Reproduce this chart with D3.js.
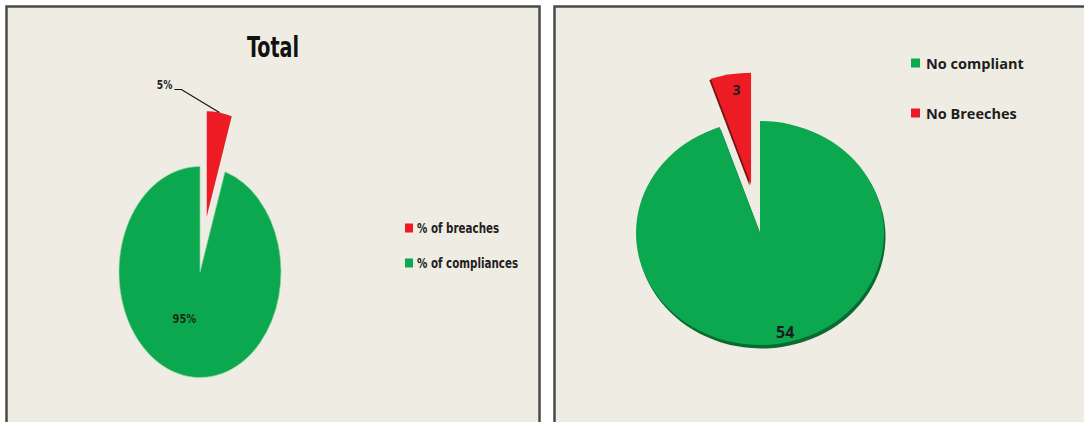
<!DOCTYPE html>
<html>
<head>
<meta charset="utf-8">
<script src="https://cdn.jsdelivr.net/npm/d3@7"></script>
<style>
  html, body { margin: 0; padding: 0; background: #ffffff; }
  svg { display: block; }
</style>
</head>
<body>
<svg id="chart" width="1084" height="422"></svg>
<script>
// ---- data ----
const leftTitle = "Total";
const leftCategories = ["% of breaches", "% of compliances"];
const leftValues = [5, 95];
const leftLabels = ["5%", "95%"];

const rightCategories = ["No compliant", "No Breeches"];
const rightValues = [54, 3];
const rightLabels = ["54", "3"];

const colors = { red: "#ED1C24", green: "#0BA84F" };

// ---- setup ----
const svg = d3.select("#chart");
const bg = "#EFECE3";
const narrow = "'DejaVu Sans Condensed', 'DejaVu Sans', sans-serif";
const sans = "'Open Sans', 'Noto Sans', sans-serif";

// helper: horizontally condensed text
function ctext(sel, x, y, sxk, txt, size, anchor, color) {
  return sel.append("text")
    .attr("transform", `translate(${x},${y}) scale(${sxk},1)`)
    .attr("text-anchor", anchor).attr("dominant-baseline", "central")
    .style("font-family", narrow).style("font-weight", "bold").style("font-size", size + "px")
    .attr("fill", color).text(txt);
}

// panels
svg.append("rect").attr("x", 6.5).attr("y", 6.5).attr("width", 533).attr("height", 430)
  .attr("fill", bg).attr("stroke", "#4a4a4a").attr("stroke-width", 2.5);
svg.append("rect").attr("x", 554.5).attr("y", 6.5).attr("width", 540).attr("height", 430)
  .attr("fill", bg).attr("stroke", "#4a4a4a").attr("stroke-width", 2.5);

// ---------------- LEFT PIE ----------------
{
  const R = 105.5, sx = 81 / 105.5, cx = 200, cy = 272;
  const pie = d3.pie().sort(null).value(d => d.v).startAngle(0).endAngle(2 * Math.PI);
  const data = pie(leftCategories.map((c, i) => ({ c, v: leftValues[i], l: leftLabels[i] })));
  const arc = d3.arc().innerRadius(0).outerRadius(R);
  const g = svg.append("g").attr("transform", `translate(${cx},${cy})`);
  const explode = 56;
  const off = d => {
    const m = (d.startAngle + d.endAngle) / 2;
    return d.index === 0 ? [Math.sin(m) * explode * sx, -Math.cos(m) * explode] : [0, 0];
  };
  g.selectAll("path.s").data(data).join("path")
    .attr("class", "s")
    .attr("d", arc)
    .attr("transform", d => { const o = off(d); return `translate(${o[0]},${o[1]}) scale(${sx},1)`; })
    .attr("fill", (d, i) => i === 0 ? colors.red : colors.green)
    .attr("stroke", (d, i) => i === 0 ? "none" : "#8fd6a4")
    .attr("stroke-width", 0.8);

  // 95% label inside
  const labelArc = d3.arc().innerRadius(47).outerRadius(47);
  const dg = data[1];
  const c1 = labelArc.centroid(dg);
  ctext(g, c1[0] * sx - 10, c1[1], 0.85, dg.data.l, 13, "middle", "#1a2a1a");

  // 5% label outside with leader
  const dr = data[0];
  const m = (dr.startAngle + dr.endAngle) / 2;
  const o = off(dr);
  const px = o[0] + Math.sin(m) * R * sx, py = o[1] - Math.cos(m) * R;
  const ex = px - 38, ey = py - 23;
  g.append("polyline")
    .attr("points", `${px},${py} ${ex},${ey} ${ex - 7},${ey}`)
    .attr("fill", "none").attr("stroke", "#111").attr("stroke-width", 1.2);
  ctext(g, ex - 9, ey - 4, 0.85, dr.data.l, 12, "end", "#222");

  // title
  ctext(svg, 273, 47, 0.76, leftTitle, 28, "middle", "#111");

  // legend
  const lg = svg.append("g").attr("transform", "translate(405,228)");
  const items = lg.selectAll("g").data(data).join("g")
    .attr("transform", (d, i) => `translate(0,${i * 35})`);
  items.append("rect").attr("x", 0).attr("y", -4.5).attr("width", 8).attr("height", 9)
    .attr("fill", (d, i) => i === 0 ? colors.red : colors.green);
  items.each(function (d) { ctext(d3.select(this), 12, 0, 0.82, d.data.c, 14, "start", "#222"); });
}

// ---------------- RIGHT PIE ----------------
{
  const R = 112, sx = 124 / 112, cx = 760, cy = 233;
  const pie = d3.pie().sort(null).value(d => d.v).startAngle(0).endAngle(2 * Math.PI);
  const data = pie(rightCategories.map((c, i) => ({ c, v: rightValues[i], l: rightLabels[i] })));
  const arc = d3.arc().innerRadius(0).outerRadius(R);
  const g = svg.append("g").attr("transform", `translate(${cx},${cy})`);
  const explode = 49;
  const off = d => {
    const m = (d.startAngle + d.endAngle) / 2;
    return d.index === 1 ? [Math.sin(m) * explode * sx, -Math.cos(m) * explode] : [0, 0];
  };
  const fills = [colors.green, colors.red];
  const shades = ["#0a6a32", "#7a1010"];
  const shOff = [[1.5, 3.5], [-1.5, 1.2]];
  // shadow
  g.selectAll("path.sh").data(data).join("path")
    .attr("class", "sh")
    .attr("d", arc)
    .attr("transform", d => { const o = off(d); const s = shOff[d.index];
      return `translate(${o[0] + s[0]},${o[1] + s[1]}) scale(${sx},1)`; })
    .attr("fill", d => shades[d.index]);
  g.selectAll("path.s").data(data).join("path")
    .attr("class", "s")
    .attr("d", arc)
    .attr("transform", d => { const o = off(d); return `translate(${o[0]},${o[1]}) scale(${sx},1)`; })
    .attr("fill", d => fills[d.index]);

  // labels
  const la0 = d3.arc().innerRadius(100).outerRadius(100);
  const c0 = la0.centroid(data[0]);
  g.append("text").attr("x", c0[0] * sx + 7).attr("y", c0[1])
    .attr("text-anchor", "middle").attr("dominant-baseline", "central")
    .style("font-family", sans).style("font-weight", "bold").style("font-size", "16px")
    .attr("fill", "#1d1d1d").text(data[0].data.l);
  const la1 = d3.arc().innerRadius(96).outerRadius(96);
  const c1 = la1.centroid(data[1]);
  const o1 = off(data[1]);
  g.append("text").attr("x", c1[0] * sx + o1[0] + 3).attr("y", c1[1] + o1[1])
    .attr("text-anchor", "middle").attr("dominant-baseline", "central")
    .style("font-family", sans).style("font-weight", "bold").style("font-size", "14px")
    .attr("fill", "#1d1d1d").text(data[1].data.l);

  // legend
  const lg = svg.append("g").attr("transform", "translate(911,63)");
  const items = lg.selectAll("g").data(data).join("g")
    .attr("transform", (d, i) => `translate(0,${i * 50})`);
  items.append("rect").attr("x", 0).attr("y", -4.5).attr("width", 9).attr("height", 9)
    .attr("fill", d => fills[d.index]);
  items.append("text").attr("x", 15).attr("y", 0).attr("dominant-baseline", "central")
    .style("font-family", sans).style("font-weight", "bold").style("font-size", "14.5px")
    .attr("fill", "#1d1d1d").text(d => d.data.c);
}
</script>
</body>
</html>
